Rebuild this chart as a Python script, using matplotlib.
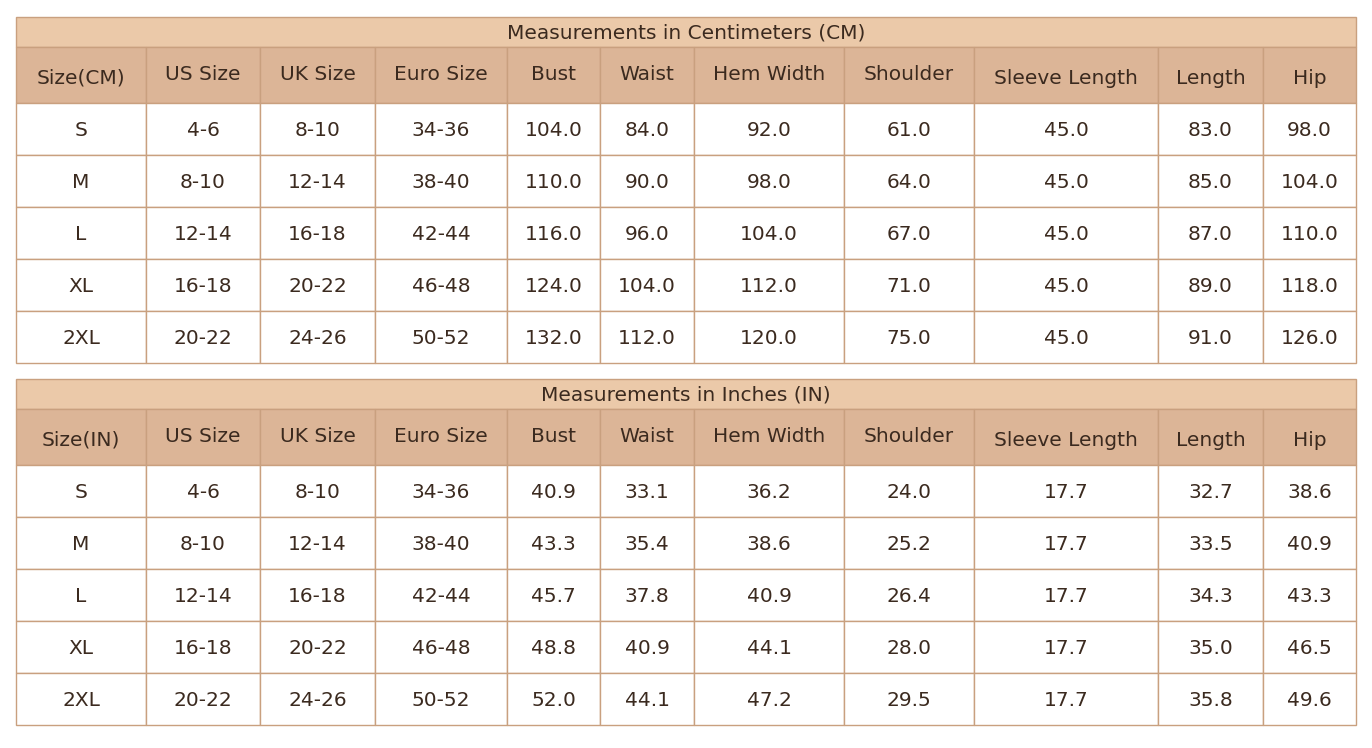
import matplotlib
matplotlib.use("Agg")
import matplotlib.pyplot as plt
from matplotlib.patches import Rectangle

headers_cm = ["Size(CM)", "US Size", "UK Size", "Euro Size", "Bust", "Waist", "Hem Width", "Shoulder", "Sleeve Length", "Length", "Hip"]
headers_in = ["Size(IN)"] + headers_cm[1:]
sizes = ["S", "M", "L", "XL", "2XL"]
us = ["4-6", "8-10", "12-14", "16-18", "20-22"]
uk = ["8-10", "12-14", "16-18", "20-22", "24-26"]
euro = ["34-36", "38-40", "42-44", "46-48", "50-52"]
cm_bust = [104.0, 110.0, 116.0, 124.0, 132.0]
cm_waist = [84.0, 90.0, 96.0, 104.0, 112.0]
cm_hem = [92.0, 98.0, 104.0, 112.0, 120.0]
cm_shoulder = [61.0, 64.0, 67.0, 71.0, 75.0]
cm_sleeve = [45.0, 45.0, 45.0, 45.0, 45.0]
cm_length = [83.0, 85.0, 87.0, 89.0, 91.0]
cm_hip = [98.0, 104.0, 110.0, 118.0, 126.0]
in_bust = [40.9, 43.3, 45.7, 48.8, 52.0]
in_waist = [33.1, 35.4, 37.8, 40.9, 44.1]
in_hem = [36.2, 38.6, 40.9, 44.1, 47.2]
in_shoulder = [24.0, 25.2, 26.4, 28.0, 29.5]
in_sleeve = [17.7, 17.7, 17.7, 17.7, 17.7]
in_length = [32.7, 33.5, 34.3, 35.0, 35.8]
in_hip = [38.6, 40.9, 43.3, 46.5, 49.6]

col_edges = [16, 146, 260, 375, 507, 600, 694, 844, 974, 1158, 1263, 1356]
TITLE_BG = "#EBC9A9"
HEAD_BG = "#DCB597"
BORDER = "#C9A07F"
TXT = "#3B2A1F"
FS = 14.5

fig = plt.figure(figsize=(13.72, 7.48), dpi=100)
ax = fig.add_axes([0, 0, 1, 1])
ax.set_xlim(0, 1372)
ax.set_ylim(748, 0)
ax.axis("off")

def fmt(v):
    return f"{v:.1f}"

def draw_table(top, title, headers, cols):
    x0, x1 = col_edges[0], col_edges[-1]
    ty0, ty1 = top, top + 30
    hy1 = ty1 + 56
    ax.add_patch(Rectangle((x0, ty0), x1 - x0, 30, facecolor=TITLE_BG, edgecolor=BORDER, lw=1))
    ax.text((x0 + x1) / 2, ty0 + 16, title, ha="center", va="center", fontsize=FS, color=TXT)
    for i, h in enumerate(headers):
        a, b = col_edges[i], col_edges[i + 1]
        ax.add_patch(Rectangle((a, ty1), b - a, 56, facecolor=HEAD_BG, edgecolor=BORDER, lw=1))
        dy = 31 if i in (0, 8, 9, 10) else 27
        ax.text((a + b) / 2, ty1 + dy, h, ha="center", va="center", fontsize=FS, color=TXT)
    rows = list(zip(*cols))
    for r, row in enumerate(rows):
        y = hy1 + 52 * r
        for i, val in enumerate(row):
            a, b = col_edges[i], col_edges[i + 1]
            ax.add_patch(Rectangle((a, y), b - a, 52, facecolor="white", edgecolor=BORDER, lw=1))
            s = fmt(val) if isinstance(val, float) else val
            ax.text((a + b) / 2, y + 27, s, ha="center", va="center", fontsize=FS, color=TXT)

draw_table(17, "Measurements in Centimeters (CM)", headers_cm,
           [sizes, us, uk, euro, cm_bust, cm_waist, cm_hem, cm_shoulder, cm_sleeve, cm_length, cm_hip])
draw_table(379, "Measurements in Inches (IN)", headers_in,
           [sizes, us, uk, euro, in_bust, in_waist, in_hem, in_shoulder, in_sleeve, in_length, in_hip])

fig.savefig("out.png", dpi=100)
